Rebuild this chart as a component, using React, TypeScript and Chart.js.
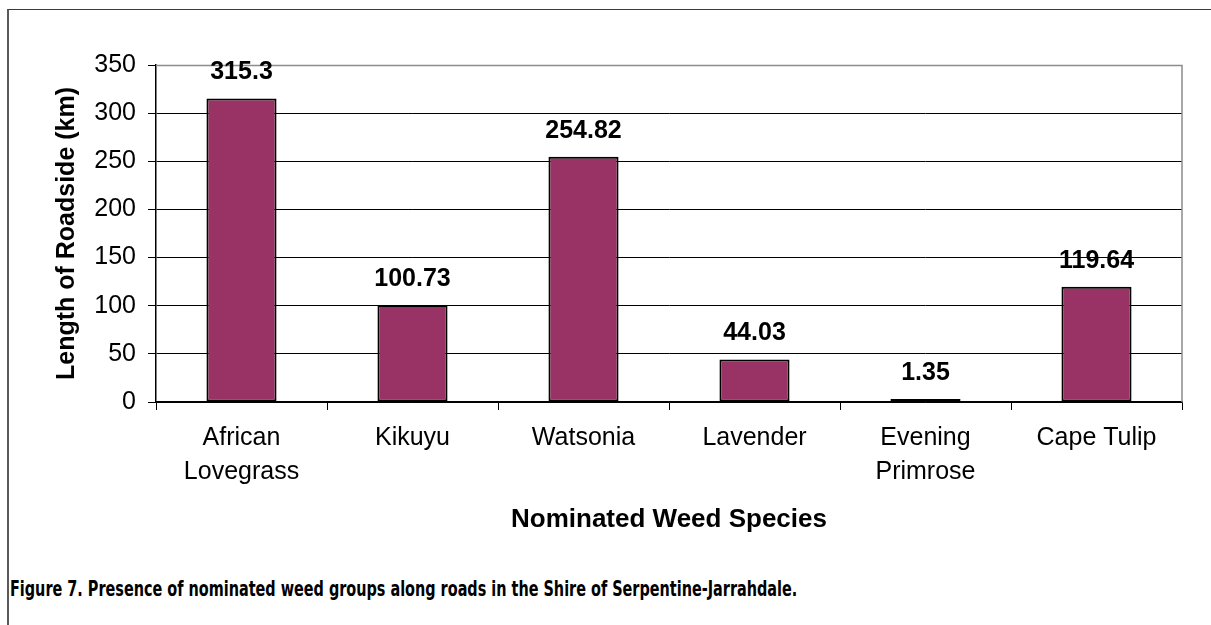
import React, { useEffect, useLayoutEffect, useRef } from "react";
import { Chart, registerables } from "chart.js";

Chart.register(...registerables);

const categories: string[][] = [
  ["African", "Lovegrass"],
  ["Kikuyu"],
  ["Watsonia"],
  ["Lavender"],
  ["Evening", "Primrose"],
  ["Cape Tulip"],
];
const roadsideKm: number[] = [315.3, 100.73, 254.82, 44.03, 1.35, 119.64];
const yMax = 350;
const yStep = 50;
const yTitle = "Length of Roadside (km)";
const xTitle = "Nominated Weed Species";
const caption =
  "Figure 7. Presence of nominated weed groups along roads in the Shire of Serpentine-Jarrahdale.";

const FONT = "'Liberation Sans', Arial, sans-serif";

const plotBorder = {
  id: "plotBorder",
  beforeDatasetsDraw(chart: any) {
    const { ctx, chartArea } = chart;
    ctx.save();
    ctx.strokeStyle = "#8c8c8c";
    ctx.lineWidth = 1.5;
    ctx.beginPath();
    ctx.moveTo(chartArea.left, chartArea.top + 0.5);
    ctx.lineTo(chartArea.right, chartArea.top + 0.5);
    ctx.lineTo(chartArea.right, chartArea.bottom);
    ctx.stroke();
    ctx.restore();
  },
};

const valueLabels = {
  id: "valueLabels",
  afterDatasetsDraw(chart: any) {
    const { ctx } = chart;
    const meta = chart.getDatasetMeta(0);
    const data = chart.data.datasets[0].data;
    ctx.save();
    ctx.font = `bold 25px ${FONT}`;
    ctx.fillStyle = "#000";
    ctx.textAlign = "center";
    ctx.textBaseline = "middle";
    meta.data.forEach((bar: any, i: number) => {
      ctx.fillText(String(data[i]), bar.x, bar.y - 26);
    });
    ctx.restore();
  },
};

export default function App() {
  const ref = useRef<HTMLCanvasElement>(null);
  const capRef = useRef<HTMLDivElement>(null);

  useLayoutEffect(() => {
    const el = capRef.current;
    if (!el) return;
    const w = el.scrollWidth;
    if (w > 0) el.style.transform = `scaleX(${787 / w})`;
  }, []);

  useEffect(() => {
    if (!ref.current) return;
    const chart = new Chart(ref.current, {
      type: "bar",
      data: {
        labels: categories,
        datasets: [
          {
            data: roadsideKm,
            backgroundColor: "#993366",
            borderColor: "#000000",
            borderWidth: 2,
            borderSkipped: false,
            barPercentage: 0.41,
            categoryPercentage: 1,
            minBarLength: 3,
          },
        ],
      },
      options: {
        animation: false,
        responsive: false,
        layout: { padding: { left: 52, right: 29, top: 65, bottom: 25 } },
        plugins: {
          legend: { display: false },
          tooltip: { enabled: false },
        },
        scales: {
          x: {
            offset: true,
            grid: {
              offset: true,
              drawOnChartArea: false,
              drawTicks: true,
              tickLength: 8,
              color: "#000",
              tickColor: "#000",
            },
            border: { color: "#000", width: 1.5 },
            ticks: {
              color: "#000",
              padding: 11,
              maxRotation: 0,
              autoSkip: false,
              font: { family: FONT, size: 25, lineHeight: 1.36 },
            },
            title: {
              display: true,
              text: xTitle,
              color: "#000",
              padding: 0,
              font: { family: FONT, size: 26, weight: "bold", lineHeight: 1.2 },
            },
            afterFit(scale: any) {
              scale.height = 133;
            },
          },
          y: {
            min: 0,
            max: yMax,
            ticks: {
              stepSize: yStep,
              color: "#000",
              padding: 12,
              font: { family: FONT, size: 25 },
            },
            grid: {
              color: (c: any) =>
                c.tick && c.tick.value === yMax ? "rgba(0,0,0,0)" : "#000",
              tickColor: "#000",
              tickLength: 8,
              lineWidth: 1,
            },
            border: { color: "#000", width: 1.5 },
            title: {
              display: true,
              text: yTitle,
              color: "#000",
              padding: 0,
              font: { family: FONT, size: 25, weight: "bold", lineHeight: 1.2 },
            },
            afterFit(scale: any) {
              scale.width = 104;
            },
          },
        },
      },
      plugins: [plotBorder, valueLabels],
    });
    return () => chart.destroy();
  }, []);

  return (
    <div
      style={{
        position: "absolute",
        left: 0,
        top: 0,
        width: 1211,
        height: 625,
        overflow: "hidden",
        background: "#fff",
      }}
    >
      <div
        style={{
          position: "absolute",
          left: 7,
          top: 9,
          width: 1210,
          height: 620,
          borderTop: "1.5px solid #3a3a3a",
          borderLeft: "2px solid #5a5a5a",
        }}
      />
      <canvas
        ref={ref}
        width={1211}
        height={560}
        style={{ position: "absolute", left: 0, top: 0, width: 1211, height: 560 }}
      />
      <div
        ref={capRef}
        style={{
          position: "absolute",
          left: 10,
          top: 577,
          whiteSpace: "nowrap",
          transformOrigin: "0 0",
          fontFamily: "'DejaVu Sans Condensed', 'DejaVu Sans', sans-serif",
          fontStretch: "condensed",
          fontWeight: "bold",
          fontSize: 21,
          lineHeight: "24px",
          color: "#000",
        }}
      >
        {caption}
      </div>
    </div>
  );
}
